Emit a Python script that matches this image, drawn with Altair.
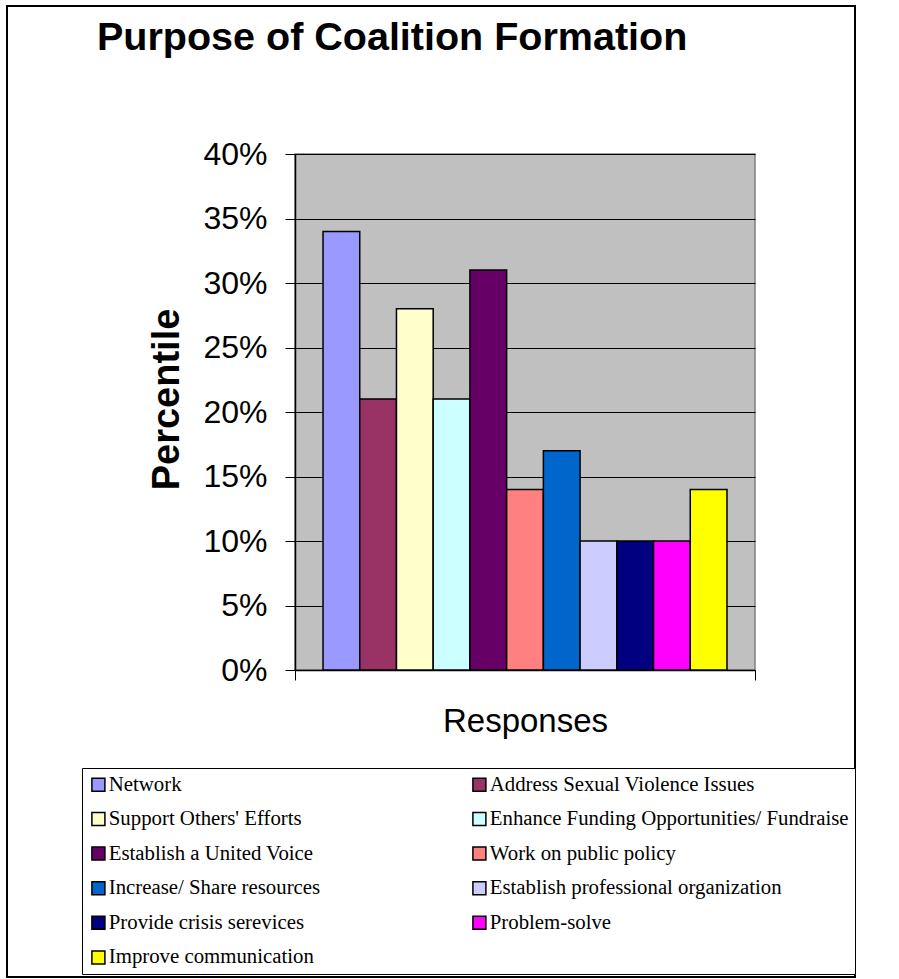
import altair as alt
import pandas as pd

responses = [
    "Network",
    "Address Sexual Violence Issues",
    "Support Others' Efforts",
    "Enhance Funding Opportunities/ Fundraise",
    "Establish a United Voice",
    "Work on public policy",
    "Increase/ Share resources",
    "Establish professional organization",
    "Provide crisis serevices",
    "Problem-solve",
    "Improve communication",
]
percent = [34, 21, 28, 21, 31, 14, 17, 10, 10, 10, 14]
colors = [
    "#9999FF", "#993366", "#FFFFCC", "#CCFFFF", "#660066", "#FF8080",
    "#0066CC", "#CCCCFF", "#000080", "#FF00FF", "#FFFF00",
]
y_ticks = [0, 5, 10, 15, 20, 25, 30, 35, 40]
x_title = "Responses"
y_title = "Percentile"
chart_title = "Purpose of Coalition Formation"

df = pd.DataFrame({"response": responses, "percent": percent, "group": x_title})
frame_df = pd.DataFrame({"f": [0]})

SANS = "Liberation Sans, Arial, sans-serif"
SERIF = "Liberation Serif, Times New Roman, serif"

bars = alt.Chart(df).mark_bar(stroke="black", strokeWidth=1.5).encode(
    x=alt.X(
        "group:N",
        title=x_title,
        scale=alt.Scale(paddingInner=0, paddingOuter=0),
        axis=alt.Axis(
            labels=False, tickBand="extent", tickSize=10, tickColor="black",
            tickWidth=1, domainColor="black", domainWidth=1.5,
            titleFont=SANS, titleFontSize=33, titleFontWeight="normal",
            titleColor="black", titlePadding=25,
        ),
    ),
    xOffset=alt.XOffset(
        "response:N", sort=responses,
        scale=alt.Scale(paddingInner=0, paddingOuter=0.763),
    ),
    y=alt.Y(
        "percent:Q",
        title=y_title,
        scale=alt.Scale(domain=[0, 40]),
        axis=alt.Axis(
            values=y_ticks, labelExpr="datum.value + '%'",
            labelFont=SANS, labelFontSize=32, labelColor="black",
            labelPadding=18, tickSize=10, tickColor="black", tickWidth=1,
            domainColor="black", domainWidth=1.5,
            grid=True, gridColor="black", gridWidth=1,
            titleFont=SANS, titleFontSize=38, titleFontWeight="bold",
            titleColor="black", titlePadding=16, titleY=245,
        ),
    ),
    color=alt.Color(
        "response:N", sort=responses,
        scale=alt.Scale(domain=responses, range=colors),
        legend=alt.Legend(
            title=None, orient="none", legendX=-213, legendY=614,
            direction="horizontal", columns=2, columnPadding=148,
            rowPadding=12.6,
            symbolType="square", symbolSize=169, symbolStrokeColor="black",
            symbolStrokeWidth=1.5, symbolOpacity=1,
            labelFont=SERIF, labelFontSize=20.8, labelColor="black",
            labelOffset=0, labelLimit=700,
            strokeColor="black", fillColor="white", padding=6,
        ),
    ),
)

frame = alt.Chart(frame_df).mark_rect(
    fillOpacity=0, stroke="black", strokeWidth=2
).encode(
    x=alt.value(-288), x2=alt.value(560),
    y=alt.value(-148), y2=alt.value(823),
)

chart = alt.layer(bars, frame).properties(
    width=460,
    height=516,
    padding={"left": 6, "top": 5, "right": 0, "bottom": 0},
    title=alt.TitleParams(
        chart_title, anchor="start", frame="group", dx=-198, offset=-53,
        font=SANS, fontSize=39.5, fontWeight="bold", color="black",
    ),
).configure_view(fill="#C0C0C0", stroke="#808080", strokeWidth=1.5)

chart.save("out.html", embed_options={"renderer": "svg", "actions": False})
